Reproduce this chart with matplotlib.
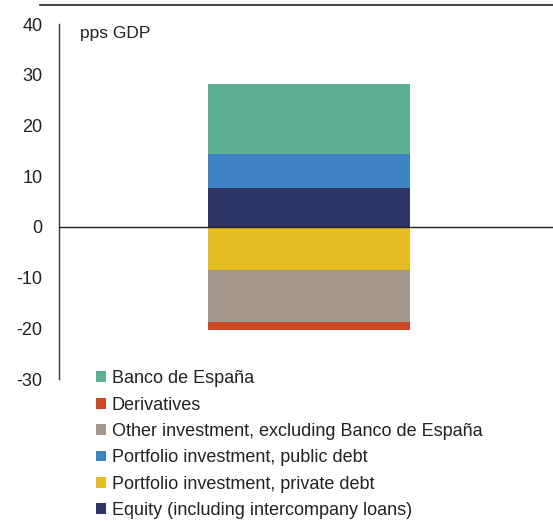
import matplotlib
matplotlib.use("Agg")
import matplotlib.pyplot as plt
from matplotlib.patches import Patch
from matplotlib.lines import Line2D

plt.rcParams['font.family'] = ['Liberation Sans', 'DejaVu Sans']

categories = ["Equity (including intercompany loans)",
              "Portfolio investment, public debt",
              "Banco de España",
              "Portfolio investment, private debt",
              "Other investment, excluding Banco de España",
              "Derivatives"]
values = [7.7, 6.7, 13.8, -8.5, -10.2, -1.6]
colors = {"Equity (including intercompany loans)": "#2c3566",
          "Portfolio investment, public debt": "#3e84c5",
          "Banco de España": "#5db094",
          "Portfolio investment, private debt": "#e3bc22",
          "Other investment, excluding Banco de España": "#a4978e",
          "Derivatives": "#cc4927"}
legend_order = ["Banco de España", "Derivatives",
                "Other investment, excluding Banco de España",
                "Portfolio investment, public debt",
                "Portfolio investment, private debt",
                "Equity (including intercompany loans)"]
yticks = [40, 30, 20, 10, 0, -10, -20, -30]

fig = plt.figure(figsize=(5.53, 5.22), dpi=100)
ax = fig.add_axes([59/553, 1 - 379/522, 1 - 59/553, (379 - 24)/522])

pos, neg = 0.0, 0.0
for cat, v in zip(categories, values):
    if v >= 0:
        ax.bar(0, v, bottom=pos, width=0.81, color=colors[cat], linewidth=0)
        pos += v
    else:
        ax.bar(0, v, bottom=neg, width=0.81, color=colors[cat], linewidth=0)
        neg += v

ax.set_xlim(-1.0, 0.976)
ax.set_ylim(-30, 40)
ax.set_yticks(yticks)
ax.set_yticklabels([str(t) for t in yticks], fontsize=13, color="#222222")
ax.tick_params(axis='y', length=0, pad=12)
ax.set_xticks([])
for s in ["top", "right", "bottom"]:
    ax.spines[s].set_visible(False)
ax.spines["left"].set_color("#333333")
ax.spines["left"].set_linewidth(1.0)
ax.axhline(0, color="#222222", linewidth=1.0, zorder=3)

ax.text(0.042, 0.972, "pps GDP", transform=ax.transAxes, fontsize=12.5,
        color="#222222", va="center", ha="left")

# top rule
fig.add_artist(Line2D([40/553, 1.0], [1 - 5/522, 1 - 5/522],
                      color="#222222", linewidth=1.2))

handles = [Patch(facecolor=colors[c], edgecolor="none") for c in legend_order]
fig.legend(handles, legend_order, loc="upper left",
           bbox_to_anchor=(89/553, 1 - 363/522), frameon=False,
           fontsize=13, handlelength=0.55, handleheight=0.55,
           handletextpad=0.3, labelspacing=0.52, borderaxespad=0,
           labelcolor="#222222")

fig.savefig("out.png", dpi=100)
